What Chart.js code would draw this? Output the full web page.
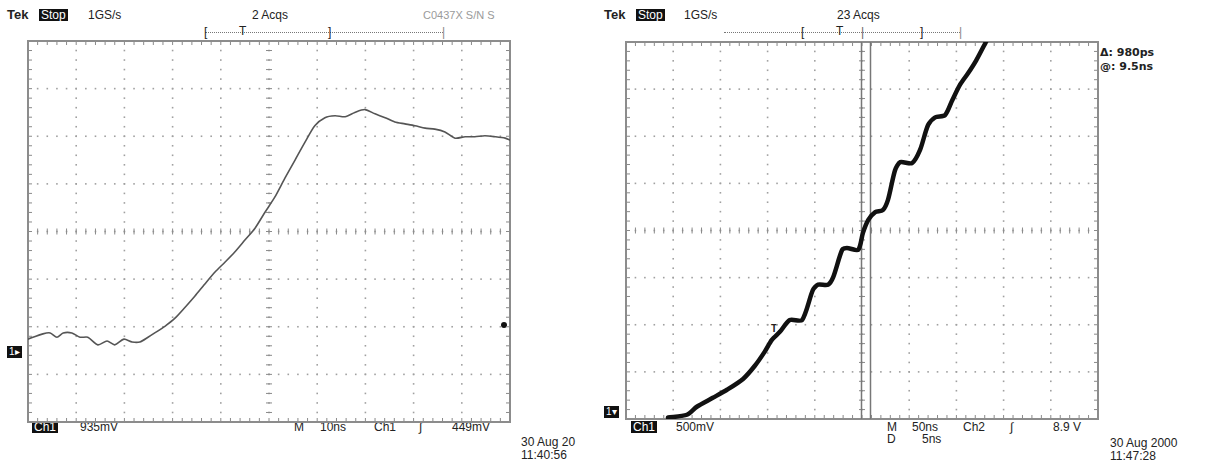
<!DOCTYPE html>
<html>
<head>
<meta charset="utf-8">
<script src="https://cdn.jsdelivr.net/npm/chart.js@4"></script>
<style>
  body { margin:0; background:#fff; width:1214px; height:466px; position:relative; overflow:hidden;
         font-family:"Liberation Sans", Arial, sans-serif; color:#222; }
  .t { position:absolute; font-size:12px; line-height:12px; white-space:nowrap; }
  .b { font-weight:bold; }
  .inv { background:#111; color:#fff; padding:0 2px; }
  .bar { position:absolute; border-top:1px dotted #777; height:0; }
  canvas { position:absolute; }
</style>
</head>
<body>

<!-- pantalla izquierda -->
<div class="t b" style="left:7px;top:9px;font-size:13px">Tek</div>
<div class="t inv" style="left:39px;top:9px">Stop</div>
<div class="t" style="left:88px;top:9px">1GS/s</div>
<div class="t" style="left:252px;top:9px">2 Acqs</div>
<div class="t" style="left:423px;top:9px;color:#9a9a9a;font-size:11px">C0437X S/N S</div>
<div class="bar" style="left:205px;top:32px;width:238px"></div>
<div class="t" style="left:204px;top:26px">[</div>
<div class="t" style="left:239px;top:25px">T</div>
<div class="t" style="left:328px;top:26px">]</div>
<div class="t" style="left:442px;top:26px;color:#888">|</div>
<div class="t inv" style="left:7px;top:346px;font-size:10px">1&#9656;</div>
<div style="position:absolute;left:501px;top:322px;width:6px;height:6px;border-radius:3px;background:#111"></div>
<div class="t inv" style="left:32px;top:421px">Ch1</div>
<div class="t" style="left:80px;top:421px">935mV</div>
<div class="t" style="left:294px;top:421px">M</div>
<div class="t" style="left:320px;top:421px">10ns</div>
<div class="t" style="left:374px;top:421px">Ch1</div>
<div class="t" style="left:419px;top:421px">&#8747;</div>
<div class="t" style="left:452px;top:421px">449mV</div>
<div class="t" style="left:521px;top:436px">30 Aug 20</div>
<div class="t" style="left:521px;top:449px">11:40:56</div>

<!-- pantalla derecha -->
<div class="t b" style="left:604px;top:9px;font-size:13px">Tek</div>
<div class="t inv" style="left:636px;top:9px">Stop</div>
<div class="t" style="left:684px;top:9px">1GS/s</div>
<div class="t" style="left:837px;top:9px">23 Acqs</div>
<div class="bar" style="left:724px;top:32px;width:236px"></div>
<div class="t" style="left:801px;top:26px">[</div>
<div class="t" style="left:836px;top:25px">T</div>
<div class="t" style="left:861px;top:26px;color:#666">|</div>
<div class="t" style="left:920px;top:26px">]</div>
<div class="t" style="left:959px;top:26px;color:#888">|</div>
<div class="t b" style="left:1100px;top:47px;font-family:'DejaVu Sans';font-size:11px">&Delta;: 980ps</div>
<div class="t b" style="left:1100px;top:61px;font-family:'DejaVu Sans';font-size:11px">@: 9.5ns</div>
<div class="t b" style="left:771px;top:323px;font-size:10px">T</div>
<div class="t inv" style="left:604px;top:406px;font-size:10px">1&#9662;</div>
<div class="t inv" style="left:631px;top:421px">Ch1</div>
<div class="t" style="left:676px;top:421px">500mV</div>
<div class="t" style="left:887px;top:421px">M</div>
<div class="t" style="left:912px;top:421px">50ns</div>
<div class="t" style="left:963px;top:421px">Ch2</div>
<div class="t" style="left:1010px;top:421px">&#8747;</div>
<div class="t" style="left:1053px;top:421px">8.9 V</div>
<div class="t" style="left:887px;top:433px">D</div>
<div class="t" style="left:922px;top:433px">5ns</div>
<div class="t" style="left:1110px;top:437px">30 Aug 2000</div>
<div class="t" style="left:1110px;top:450px">11:47:28</div>

<canvas id="pantallaA" width="494" height="393" style="left:22px;top:35px"></canvas>
<canvas id="pantallaB" width="484" height="389" style="left:620px;top:36px"></canvas>

<script>
// DATOS – en divisiones de pantalla (x: 0..10, y: -4..4)
const tiempoA = [0, 0.31, 0.46, 0.60, 0.73, 0.91, 1.08, 1.24, 1.45, 1.64,
  1.80, 1.99, 2.16, 2.32, 2.49, 2.63, 2.84, 3.05, 3.26, 3.46,
  3.67, 3.88, 4.09, 4.29, 4.50, 4.71, 4.92, 5.12, 5.33, 5.54,
  5.75, 5.95, 6.16, 6.37, 6.58, 6.78, 6.99, 7.20, 7.41, 7.61,
  7.82, 8.03, 8.24, 8.44, 8.65, 8.86, 9.07, 9.27, 9.48, 9.69, 9.90, 10.0];
const voltajeA = [-2.26, -2.15, -2.13, -2.22, -2.13, -2.13, -2.22, -2.22, -2.38, -2.30,
  -2.38, -2.26, -2.32, -2.32, -2.22, -2.13, -1.99, -1.82, -1.59, -1.36,
  -1.10, -0.85, -0.64, -0.43, -0.18, 0.07, 0.41, 0.72, 1.12, 1.50,
  1.88, 2.22, 2.39, 2.43, 2.41, 2.50, 2.56, 2.47, 2.39, 2.30,
  2.26, 2.22, 2.17, 2.15, 2.09, 1.96, 1.99, 1.99, 2.01, 1.99, 1.96, 1.92];

const tiempoB = [0.89, 1.29, 1.50, 1.84, 2.14, 2.48, 2.73, 2.94, 3.09, 3.26,
  3.47, 3.73, 3.96, 4.07, 4.28, 4.39, 4.58, 4.68, 4.92, 5.02,
  5.13, 5.28, 5.44, 5.55, 5.70, 5.81, 6.06, 6.23, 6.40, 6.55,
  6.76, 6.91, 7.08, 7.25, 7.42, 7.61, 7.70];
const voltajeB = [-3.97, -3.91, -3.74, -3.55, -3.38, -3.15, -2.87, -2.57, -2.32, -2.15,
  -1.90, -1.90, -1.26, -1.15, -1.15, -0.99, -0.41, -0.37, -0.41, -0.05,
  0.22, 0.39, 0.43, 0.65, 1.28, 1.45, 1.43, 1.71, 2.24, 2.40,
  2.45, 2.76, 3.10, 3.34, 3.61, 3.97, 4.15];

// cursores verticales de la pantalla derecha
const cursoresB = [4.98, 5.17];

// reticula del osciloscopio (10 x 8 divisiones, 5 subdivisiones)
const reticula = {
  id: 'reticula',
  beforeDatasetsDraw(chart) {
    const { ctx, chartArea: a, scales: { x, y } } = chart;
    ctx.save();
    ctx.fillStyle = '#a0a0a0';
    for (let i = 1; i < 10; i++) {
      const px = x.getPixelForValue(i);
      for (let j = 0; j <= 40; j++) {
        const py = y.getPixelForValue(-4 + j * 0.2);
        ctx.fillRect(px - 0.8, py - 0.8, 1.6, 1.6);
      }
    }
    for (let j = 1; j < 8; j++) {
      const py = y.getPixelForValue(-4 + j);
      for (let i = 0; i <= 50; i++) {
        const px = x.getPixelForValue(i * 0.2);
        ctx.fillRect(px - 0.8, py - 0.8, 1.6, 1.6);
      }
    }
    // marcas en los ejes centrales y en el marco
    ctx.strokeStyle = '#8a8a8a';
    ctx.lineWidth = 1;
    ctx.beginPath();
    const cx = x.getPixelForValue(5), cy = y.getPixelForValue(0);
    for (let j = 1; j < 40; j++) {
      const py = y.getPixelForValue(-4 + j * 0.2);
      ctx.moveTo(cx - 3, py); ctx.lineTo(cx + 3, py);
      ctx.moveTo(a.left, py); ctx.lineTo(a.left + 4, py);
      ctx.moveTo(a.right, py); ctx.lineTo(a.right - 4, py);
    }
    for (let i = 1; i < 50; i++) {
      const px = x.getPixelForValue(i * 0.2);
      ctx.moveTo(px, cy - 3); ctx.lineTo(px, cy + 3);
      ctx.moveTo(px, a.top); ctx.lineTo(px, a.top + 4);
      ctx.moveTo(px, a.bottom); ctx.lineTo(px, a.bottom - 4);
    }
    ctx.stroke();
    ctx.lineWidth = 2;
    ctx.strokeStyle = '#8c8c8c';
    ctx.strokeRect(a.left, a.top, a.width, a.height);
    ctx.restore();
  }
};

const cursores = {
  id: 'cursores',
  beforeDatasetsDraw(chart, args, opts) {
    if (!opts.valores) return;
    const { ctx, chartArea: a, scales: { x } } = chart;
    ctx.save();
    ctx.strokeStyle = '#777';
    ctx.lineWidth = 1.5;
    opts.valores.forEach(v => {
      const px = Math.round(x.getPixelForValue(v)) + 0.5;
      ctx.beginPath(); ctx.moveTo(px, a.top); ctx.lineTo(px, a.bottom); ctx.stroke();
    });
    ctx.restore();
  }
};

function crearPantalla(id, tiempo, voltaje, color, grosor, valoresCursor) {
  return new Chart(document.getElementById(id), {
    type: 'scatter',
    data: {
      datasets: [{
        data: tiempo.map((t, i) => ({ x: t, y: voltaje[i] })),
        showLine: true,
        borderColor: color,
        borderWidth: grosor,
        pointRadius: 0,
        tension: 0.25,
        borderCapStyle: 'round',
        borderJoinStyle: 'round'
      }]
    },
    options: {
      responsive: false,
      animation: false,
      layout: { padding: 6 },
      scales: {
        x: { type: 'linear', min: 0, max: 10, display: false },
        y: { min: -4, max: 4, display: false }
      },
      plugins: {
        legend: { display: false },
        tooltip: { enabled: false },
        cursores: { valores: valoresCursor }
      }
    },
    plugins: [reticula, cursores]
  });
}

crearPantalla('pantallaA', tiempoA, voltajeA, '#555', 1.6, null);
crearPantalla('pantallaB', tiempoB, voltajeB, '#111', 4.5, cursoresB);
</script>
</body>
</html>
